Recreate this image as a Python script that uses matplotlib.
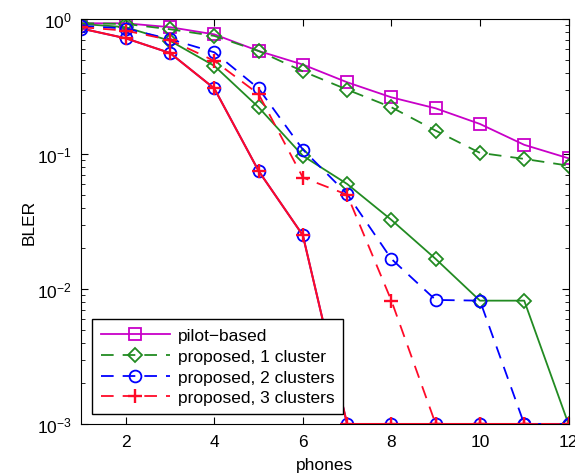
import matplotlib.pyplot as plt
import numpy as np

plt.rcParams['font.family'] = ['Liberation Sans', 'DejaVu Sans']

phones = np.arange(1, 13)

# dashed set (in legend)
pilot = [0.93, 0.93, 0.87, 0.77, 0.58, 0.46, 0.34, 0.263, 0.218, 0.167, 0.117, 0.093]
prop1 = [0.93, 0.92, 0.84, 0.75, 0.58, 0.41, 0.30, 0.222, 0.149, 0.102, 0.092, 0.082]
prop2 = [0.89, 0.85, 0.71, 0.567, 0.306, 0.108, 0.0506, 0.0167, 0.0083, 0.0082, 0.001, 0.001]
prop3 = [0.87, 0.82, 0.70, 0.49, 0.278, 0.067, 0.050, 0.0082, 0.001, 0.001, 0.001, 0.001]

# solid set (second scenario, not in legend)
prop1_s = [0.92, 0.87, 0.69, 0.45, 0.222, 0.097, 0.060, 0.0325, 0.0167, 0.0082, 0.0082, 0.001]
prop2_s = [0.85, 0.72, 0.56, 0.306, 0.075, 0.025, 0.001, 0.001, 0.001, 0.001, 0.001, 0.001]
prop3_s = [0.85, 0.72, 0.56, 0.306, 0.075, 0.025, 0.001, 0.001, 0.001, 0.001, 0.001, 0.001]

magenta = '#c800c8'
green = '#228b22'
blue = '#0000ff'
red = '#ff0a28'

fig = plt.figure(figsize=(5.75, 4.77), dpi=100)
ax = fig.add_axes([0.1417, 0.109, 0.847, 0.849])

mk = dict(markerfacecolor='none', markersize=8.5, markeredgewidth=1.3, lw=1.3)

ax.plot(phones, prop1_s, '-', color=green, marker='D', **dict(mk, markersize=7.5))
ax.plot(phones, prop2_s, '-', color=blue, marker='o', **mk)
ax.plot(phones, prop3_s, '-', color=red, marker='+', markersize=10, markeredgewidth=1.7, lw=1.5)

ax.plot(phones, pilot, '-', color=magenta, marker='s', label='pilot\u2212based', **mk)
ax.plot(phones, prop1, '--', color=green, marker='D', dashes=(7, 5),
        label='proposed, 1 cluster', **dict(mk, markersize=7.5))
ax.plot(phones, prop2, '--', color=blue, marker='o', dashes=(7, 5),
        label='proposed, 2 clusters', **mk)
ax.plot(phones, prop3, '--', color=red, marker='+', dashes=(7, 5), markersize=10,
        markeredgewidth=1.7, lw=1.3, label='proposed, 3 clusters')

ax.set_yscale('log')
ax.set_xlim(1, 12)
ax.set_ylim(1e-3, 1)
ax.set_xticks([2, 4, 6, 8, 10, 12])
ax.tick_params(which='both', direction='in', top=True, right=True, labelsize=12.5)
ax.tick_params(which='major', length=5, pad=7)
ax.tick_params(which='minor', length=3)
ax.set_xlabel('phones', fontsize=12.5, labelpad=6)
ax.set_ylabel('BLER', fontsize=12.5, labelpad=0)

leg = ax.legend(loc='lower left', bbox_to_anchor=(0.0216, 0.0247), borderaxespad=0,
                fontsize=12.5, numpoints=1, handlelength=4.0, fancybox=False,
                framealpha=1, borderpad=0.5, labelspacing=0.32, handletextpad=0.45)
leg.get_frame().set_edgecolor('black')

fig.savefig('out.png', dpi=100)
